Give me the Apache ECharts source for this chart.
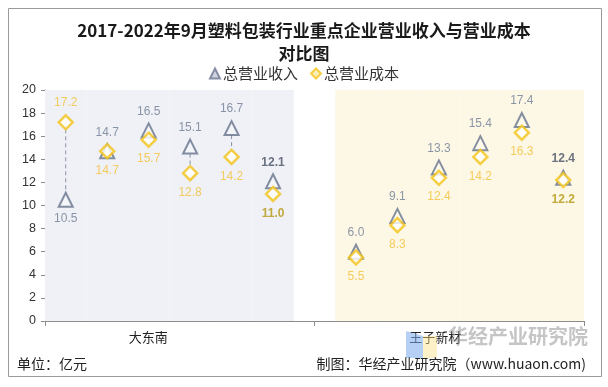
<!DOCTYPE html>
<html>
<head>
<meta charset="utf-8">
<script src="https://cdn.jsdelivr.net/npm/echarts@6/dist/echarts.min.js"></script>
<style>html,body{margin:0;padding:0;background:#fff}#c{width:608px;height:387px}</style>
</head>
<body>
<div id="c"></div>
<script>
// ---- data ----
const years = ['2017', '2018', '2019', '2020', '2021', '2022.1-9'];
const companies = ['大东南', '王子新材'];
const revenueDDN = [10.5, 14.7, 16.5, 15.1, 16.7, 12.1];
const costDDN    = [17.2, 14.7, 15.7, 12.8, 14.2, 11.0];
const revenueWZ  = [6.0, 9.1, 13.3, 15.4, 17.4, 12.4];
const costWZ     = [5.5, 8.3, 12.4, 14.2, 16.3, 12.2];
const yTicks = [0, 2, 4, 6, 8, 10, 12, 14, 16, 18, 20];

// ---- build ----
const FONT = "'Liberation Sans', Arial, 'Noto Sans CJK SC', sans-serif";
const CJK = "'Noto Sans CJK SC', 'Liberation Sans', sans-serif";
const categories = years.concat([''], years);
const groups = [
  { rev: revenueDDN, cost: costDDN, start: 0 },
  { rev: revenueWZ, cost: costWZ, start: years.length + 1 }
];
const revData = categories.map(() => '-');
const costData = categories.map(() => '-');
const linkData = [];
const bgLeft = categories.map(() => '-');
const bgRight = categories.map(() => '-');
const yMax = yTicks[yTicks.length - 1];

const REV_C = '#66738c', REV_LBL = '#6f7c95', REV_BOLD = '#475064';
const COST_C = '#f2c318', COST_LBL = '#f2c13a', COST_BOLD = '#b5960f';

groups.forEach((g, gi) => {
  g.rev.forEach((r, i) => {
    const idx = g.start + i;
    const c = g.cost[i];
    const last = i === g.rev.length - 1;
    const revTop = r >= c;
    revData[idx] = {
      value: r,
      label: {
        position: revTop ? 'top' : 'bottom',
        color: last ? REV_BOLD : REV_LBL,
        fontWeight: last ? 'bold' : 'normal'
      }
    };
    costData[idx] = {
      value: c,
      label: {
        position: revTop ? 'bottom' : 'top',
        color: last ? COST_BOLD : COST_LBL,
        fontWeight: last ? 'bold' : 'normal'
      }
    };
    linkData.push([idx, r, c]);
    if (gi === 0) bgLeft[idx] = yMax; else bgRight[idx] = yMax;
  });
});

const chart = echarts.init(document.getElementById('c'), null, { renderer: 'canvas' });
chart.setOption({
  animation: false,
  backgroundColor: '#fff',
  title: {
    text: '2017-2022年9月塑料包装行业重点企业营业收入与营业成本\n对比图',
    left: 'center',
    top: 14,
    textStyle: { fontFamily: CJK, fontSize: 17, fontWeight: 'bold', color: '#1a1a1a', lineHeight: 23 }
  },
  legend: {
    top: 61,
    left: 'center',
    itemWidth: 10,
    itemHeight: 10,
    itemGap: 12,
    textStyle: { fontFamily: CJK, fontSize: 15, color: '#333', padding: [0, 0, 0, -2] },
    data: [
      { name: '总营业收入', icon: 'triangle', itemStyle: { color: '#c4c9d6', borderColor: '#6b7590', borderWidth: 2 } },
      { name: '总营业成本', icon: 'diamond', itemStyle: { color: '#fbeaa8', borderColor: '#f2c318', borderWidth: 2 } }
    ]
  },
  grid: { left: 45, right: 24, top: 90, bottom: 66 },
  xAxis: [
    {
      type: 'category',
      data: categories,
      show: false,
      boundaryGap: true
    },
    {
      type: 'category',
      data: companies,
      position: 'bottom',
      boundaryGap: true,
      axisLine: { show: true, lineStyle: { color: '#8c8c8c', width: 1 } },
      axisTick: { show: true, length: 5, lineStyle: { color: '#8c8c8c' } },
      axisLabel: {
        margin: 10,
        formatter: (v, i) => (i === 0 ? '{a|' + v + '}' : '{b|' + v + '}'),
        rich: {
          a: { fontFamily: CJK, fontSize: 13, color: '#222', padding: [0, 63, 0, 0] },
          b: { fontFamily: CJK, fontSize: 13, color: '#222', padding: [0, 28, 0, 0] }
        }
      }
    }
  ],
  yAxis: {
    type: 'value',
    min: yTicks[0],
    max: yMax,
    interval: yTicks[1] - yTicks[0],
    axisLine: { show: true, lineStyle: { color: '#8c8c8c', width: 1 } },
    axisTick: { show: true, length: 4, lineStyle: { color: '#8c8c8c' } },
    splitLine: { show: false },
    axisLabel: { fontFamily: FONT, fontSize: 12.5, color: '#333', margin: 9 }
  },
  series: [
    {
      type: 'bar', xAxisIndex: 0, data: bgLeft, silent: true, barWidth: '100%', barGap: '-100%',
      itemStyle: { color: '#eff1f6' }, z: 0
    },
    {
      type: 'bar', xAxisIndex: 0, data: bgRight, silent: true, barWidth: '100%', barGap: '-100%',
      itemStyle: { color: '#fdf8e5' }, z: 0
    },
    {
      type: 'custom', xAxisIndex: 0, silent: true, z: 1,
      encode: { x: 0, y: [1, 2] },
      data: linkData,
      renderItem: function (params, api) {
        const x = api.value(0);
        const p1 = api.coord([x, api.value(1)]);
        const p2 = api.coord([x, api.value(2)]);
        const top = Math.min(p1[1], p2[1]) + 7;
        const bot = Math.max(p1[1], p2[1]) - 7;
        if (bot - top < 2) return null;
        return {
          type: 'line',
          shape: { x1: p1[0], y1: top, x2: p1[0], y2: bot },
          style: { stroke: '#8a93a6', lineWidth: 1, lineDash: [4, 3] }
        };
      }
    },
    {
      name: '总营业收入', type: 'scatter', xAxisIndex: 0, data: revData, z: 3,
      symbol: 'triangle', symbolSize: 14,
      itemStyle: { color: 'rgba(255,255,255,0.35)', borderColor: REV_C, borderWidth: 2 },
      label: { show: true, distance: 5, fontFamily: FONT, fontSize: 12, formatter: p => p.value.toFixed(1) }
    },
    {
      name: '总营业成本', type: 'scatter', xAxisIndex: 0, data: costData, z: 4,
      symbol: 'diamond', symbolSize: 14,
      itemStyle: { color: '#ffffff', borderColor: COST_C, borderWidth: 2.5 },
      label: { show: true, distance: 5, fontFamily: FONT, fontSize: 12, formatter: p => p.value.toFixed(1) }
    }
  ],
  graphic: [
    {
      type: 'rect', silent: true, z: 100,
      shape: { x: 8.5, y: 8.5, width: 593, height: 368 },
      style: { fill: 'none', stroke: '#9a9a9a', lineWidth: 1 }
    },
    {
      type: 'text', left: 17, top: 357, silent: true,
      style: { text: '单位：亿元', font: "14px 'Noto Sans CJK SC'", fill: '#222' }
    },
    {
      type: 'polygon', silent: true, z: 50,
      shape: { points: [[406, 331], [423, 336], [423, 358], [406, 358]] },
      style: { fill: 'rgba(120,170,235,0.55)' }
    },
    {
      type: 'rect', silent: true, z: 50,
      shape: { x: 423, y: 336, width: 14, height: 22 },
      style: { fill: 'rgba(250,225,130,0.45)' }
    },
    {
      type: 'text', right: 20, top: 326, silent: true, z: 50,
      style: { text: '华经产业研究院', font: "bold 20px 'Noto Sans CJK SC'", fill: 'rgba(140,140,140,0.5)' }
    },
    {
      type: 'text', right: 22, top: 357, silent: true, z: 60,
      style: { text: '制图：华经产业研究院（www.huaon.com)', font: "14px 'Noto Sans CJK SC'", fill: '#222' }
    }
  ]
});
</script>
</body>
</html>
